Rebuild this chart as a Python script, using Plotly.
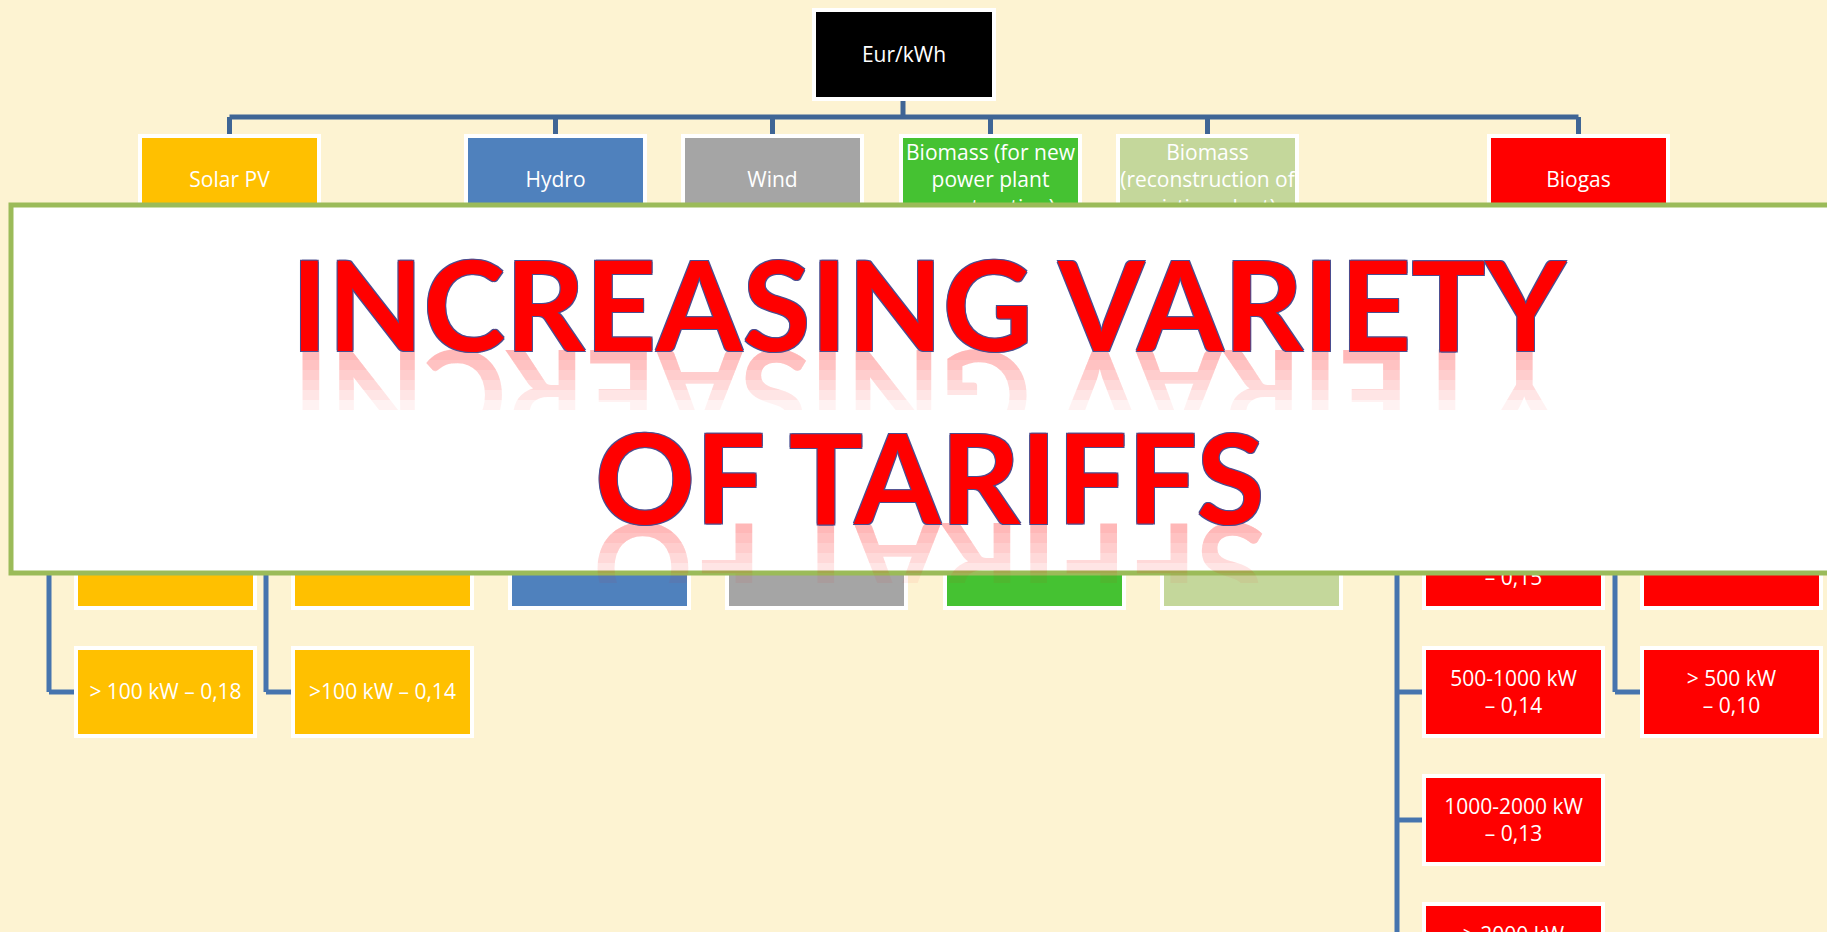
import plotly.graph_objects as go

# ---- data ---------------------------------------------------------------
root_label = "Eur/kWh"
source_labels = ["Solar PV", "Hydro", "Wind",
                 "Biomass (for new<br>power plant<br>construction)",
                 "Biomass<br>(reconstruction of<br>existing plant)",
                 "Biogas"]
source_colors = ["#FFC000", "#4F81BD", "#A5A5A5", "#45C232", "#C4D79B", "#FF0000"]

# tariff boxes hanging under each source, top row first ("" = hidden under the banner)
solar_a = ["", "", "", "> 100 kW – 0,18"]
solar_b = ["", "", "", ">100 kW – 0,14"]
hydro = ["", "", ""]
wind = ["", "", ""]
biomass_new = ["", "", ""]
biomass_rec = ["", "", ""]
biogas_a = ["", "", " <br>– 0,15", "500-1000 kW<br>– 0,14", "1000-2000 kW<br>– 0,13", "> 2000 kW<br> "]
biogas_b = ["", "", "", "> 500 kW<br>– 0,10"]
tariff_columns = [solar_a, solar_b, hydro, wind, biomass_new, biomass_rec, biogas_a, biogas_b]
column_source = [0, 0, 1, 2, 3, 4, 5, 5]

title_lines = ["INCREASING VARIETY", "OF TARIFFS"]

# ---- layout (pixels of the slide) --------------------------------------
W, H = 1827, 932
BG = "#FDF3D2"
BOX_W, BOX_H = 175, 84
ROW0, ROW_STEP = 138, 128
ROOT = (816, 12, 176, 85)
source_left = [142, 468, 685, 903, 1120, 1491]
column_left = [78, 295, 512, 729, 947, 1164, 1426, 1644]
BUS_Y = 117
ELBOW_Y = 242
TOP_LINE = "#3F6595"
LOW_LINE = "#4674AE"
LABEL_DY = 2

shapes = []
lbl_x, lbl_y, lbl_t = [], [], []


def line(x0, y0, x1, y1, color):
    shapes.append(dict(type="line", x0=x0, y0=y0, x1=x1, y1=y1, layer="below",
                       line=dict(color=color, width=5)))


def box(x0, y0, w, h, color, text):
    shapes.append(dict(type="rect", x0=x0 - 2, y0=y0 - 2, x1=x0 + w + 2, y1=y0 + h + 2,
                       layer="below", fillcolor=color, line=dict(color="white", width=4)))
    lbl_x.append(x0 + w / 2)
    lbl_y.append(y0 + h / 2 + LABEL_DY)
    lbl_t.append(text)


# connectors
rx, ry, rw, rh = ROOT
src_cx = [l + BOX_W / 2 for l in source_left]
line(rx + rw / 2 - 1, ry + rh, rx + rw / 2 - 1, BUS_Y, TOP_LINE)
line(src_cx[0], BUS_Y, src_cx[-1], BUS_Y, TOP_LINE)
for c in src_cx:
    line(c, BUS_Y, c, ROW0 - 3, TOP_LINE)

for col, labels in enumerate(tariff_columns):
    stem = column_left[col] - 29
    c = src_cx[column_source[col]]
    last = ROW0 + ROW_STEP * len(labels) + BOX_H / 2
    line(c, ROW0 + BOX_H, c, ELBOW_Y, LOW_LINE)
    line(min(c, stem), ELBOW_Y, max(c, stem), ELBOW_Y, LOW_LINE)
    line(stem, ELBOW_Y, stem, last, LOW_LINE)
    for r in range(len(labels)):
        yc = ROW0 + ROW_STEP * (r + 1) + BOX_H / 2
        line(stem, yc, column_left[col] - 3, yc, LOW_LINE)

# boxes
box(rx, ry, rw, rh, "black", root_label)
for i, lab in enumerate(source_labels):
    box(source_left[i], ROW0, BOX_W, BOX_H, source_colors[i], lab)
for col, labels in enumerate(tariff_columns):
    color = source_colors[column_source[col]]
    for r, lab in enumerate(labels):
        box(column_left[col], ROW0 + ROW_STEP * (r + 1), BOX_W, BOX_H, color, lab)

# banner on top of the chart
shapes.append(dict(type="rect", x0=11, y0=205, x1=W + 20, y1=573, layer="above",
                   fillcolor="white", line=dict(color="#9BBB59", width=5)))

fig = go.Figure()
fig.add_trace(go.Scatter(x=lbl_x, y=lbl_y, text=lbl_t, mode="text", hoverinfo="skip",
                         textposition="middle center",
                         textfont=dict(family="Open Sans", size=21, color="white")))

# title with a fading reflection (stacked clipped copies, flipped)
outline = "#4B4D8F"
shadow = ", ".join(f"{dx}px {dy}px 0 {outline}" for dx in (-1, 1) for dy in (-1, 1))
TITLE_SIZE = 124
title_font = dict(family="Lato", size=TITLE_SIZE, weight="bold", color="#FF0000", shadow=shadow)
TITLE_X = 929
baselines = [350, 523]
DESCENT = 26
annotations = []
for k, txt in enumerate(title_lines):
    b = baselines[k]
    for d in range(10, 70, 10):
        h = DESCENT + d
        top = b - DESCENT
        annotations.append(dict(text=txt[::-1], x=TITLE_X, y=top + h / 2, textangle=180,
                                width=1500, height=h, valign="bottom", borderpad=0,
                                showarrow=False, xanchor="center", yanchor="middle",
                                font=dict(family="Lato", size=TITLE_SIZE, weight="bold",
                                          color="rgba(255,0,0,0.05)")))
    annotations.append(dict(text=txt, x=TITLE_X, y=b - 47, showarrow=False,
                            xanchor="center", yanchor="middle", font=title_font))

fig.update_layout(
    width=W, height=H, margin=dict(l=0, r=0, t=0, b=0),
    paper_bgcolor=BG, plot_bgcolor=BG, showlegend=False,
    xaxis=dict(range=[0, W], visible=False, fixedrange=True),
    yaxis=dict(range=[H, 0], visible=False, fixedrange=True),
    shapes=shapes, annotations=annotations,
)

fig.write_html("out.html", config={"displayModeBar": False},
               post_script="document.body.style.margin='0px';")
